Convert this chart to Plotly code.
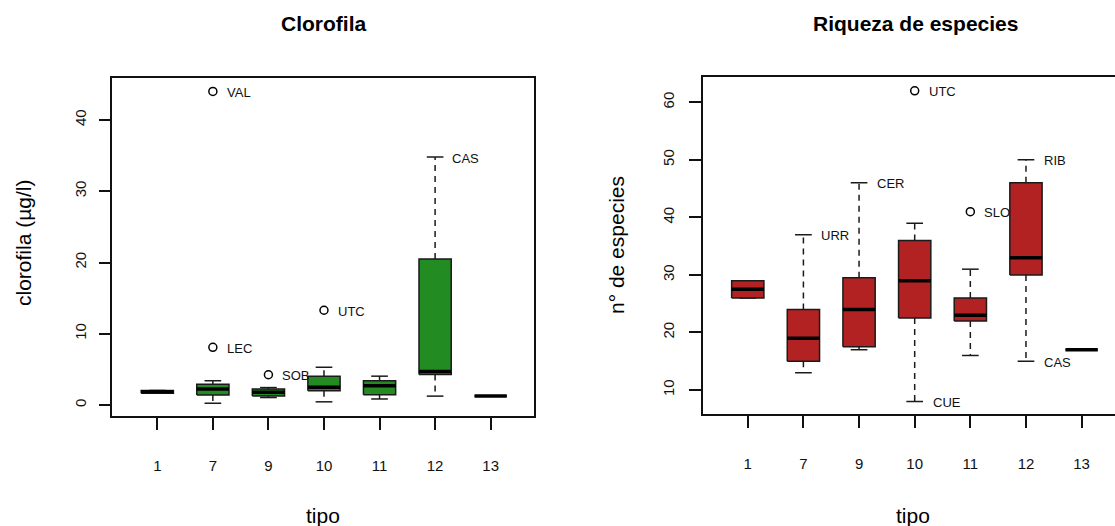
import plotly.graph_objects as go

# Site type (x categories)
tipo = ["1", "7", "9", "10", "11", "12", "13"]

# Chlorophyll (µg/l) box statistics per type
clor_low = [1.65, 0.25, 1.05, 0.45, 0.85, 1.25, 1.25]
clor_q1 = [1.65, 1.40, 1.25, 2.00, 1.45, 4.30, 1.25]
clor_med = [1.85, 2.25, 1.80, 2.50, 2.70, 4.70, 1.25]
clor_q3 = [2.05, 2.90, 2.25, 4.05, 3.40, 20.50, 1.25]
clor_high = [2.05, 3.40, 2.45, 5.30, 4.05, 34.80, 1.25]

# Chlorophyll outliers and labelled extremes
clor_out_tipo = ["7", "7", "9", "10"]
clor_out_val = [44.0, 8.1, 4.25, 13.3]
clor_out_lab = ["VAL", "LEC", "SOB", "UTC"]
clor_ext_tipo = ["12"]
clor_ext_val = [34.8]
clor_ext_lab = ["CAS"]

# Species richness box statistics per type
rich_low = [26, 13, 17, 8, 16, 15, 17]
rich_q1 = [26, 15, 17.5, 22.5, 22, 30, 17]
rich_med = [27.5, 19, 24, 29, 23, 33, 17]
rich_q3 = [29, 24, 29.5, 36, 26, 46, 17]
rich_high = [29, 37, 46, 39, 31, 50, 17]

# Species richness outliers and labelled extremes
rich_out_tipo = ["10", "11"]
rich_out_val = [62, 41]
rich_out_lab = ["UTC", "SLO"]
rich_ext_tipo = ["7", "9", "10", "12", "12"]
rich_ext_val = [37, 46, 8, 50, 15]
rich_ext_lab = ["URR", "CER", "CUE", "RIB", "CAS"]

FONT = "Liberation Sans, Arial, Helvetica, sans-serif"
GREEN = "#228B22"
RED = "#B22222"
BORDER = "#1a1a1a"
BOX_HALF = 0.29
STAPLE_HALF = 0.15

pos = {t: i + 1 for i, t in enumerate(tipo)}


def box_traces(low, q1, med, q3, high, color, xa, ya):
    traces = []
    wx, wy, sx, sy, bx, by, mx, my = [], [], [], [], [], [], [], []
    for i, t in enumerate(tipo):
        p = pos[t]
        # whiskers (dashed)
        wx += [p, p, None, p, p, None]
        wy += [q3[i], high[i], None, q1[i], low[i], None]
        # staples
        sx += [p - STAPLE_HALF, p + STAPLE_HALF, None, p - STAPLE_HALF, p + STAPLE_HALF, None]
        sy += [high[i], high[i], None, low[i], low[i], None]
        # box
        bx += [p - BOX_HALF, p + BOX_HALF, p + BOX_HALF, p - BOX_HALF, p - BOX_HALF, None]
        by += [q1[i], q1[i], q3[i], q3[i], q1[i], None]
        # median
        mx += [p - BOX_HALF, p + BOX_HALF, None]
        my += [med[i], med[i], None]
    common = dict(xaxis=xa, yaxis=ya, mode="lines", hoverinfo="skip", showlegend=False)
    traces.append(go.Scatter(x=wx, y=wy, line=dict(color=BORDER, width=1.5, dash="6px,5px"), **common))
    traces.append(go.Scatter(x=sx, y=sy, line=dict(color=BORDER, width=1.5), **common))
    traces.append(go.Scatter(x=bx, y=by, fill="toself", fillcolor=color,
                             line=dict(color=BORDER, width=1.5), **common))
    traces.append(go.Scatter(x=mx, y=my, line=dict(color="black", width=3.5), **common))
    return traces


def outlier_trace(ts, vals, xa, ya):
    return go.Scatter(
        x=[pos[t] for t in ts], y=vals, xaxis=xa, yaxis=ya, mode="markers",
        marker=dict(symbol="circle-open", size=8, color="black", line=dict(width=1.5)),
        hoverinfo="skip", showlegend=False,
    )


def labels(ts, vals, labs, xref, yref, shift):
    return [
        dict(x=pos[t], y=v, xref=xref, yref=yref, text=lab, showarrow=False,
             xanchor="left", yanchor="middle", xshift=shift, yshift=-1,
             font=dict(family=FONT, size=13, color="#111"))
        for t, v, lab in zip(ts, vals, labs)
    ]


fig = go.Figure()
for tr in box_traces(clor_low, clor_q1, clor_med, clor_q3, clor_high, GREEN, "x", "y"):
    fig.add_trace(tr)
fig.add_trace(outlier_trace(clor_out_tipo, clor_out_val, "x", "y"))
for tr in box_traces(rich_low, rich_q1, rich_med, rich_q3, rich_high, RED, "x2", "y2"):
    fig.add_trace(tr)
fig.add_trace(outlier_trace(rich_out_tipo, rich_out_val, "x2", "y2"))

W, H = 1115, 526

axis_common = dict(
    showgrid=False, zeroline=False, showline=True, linecolor="#111", linewidth=1.5,
    ticks="outside", ticklen=12, tickwidth=1.5, tickcolor="#111",
    tickfont=dict(family=FONT, size=15, color="#111"),
)

xtick = dict(tickmode="array", tickvals=[pos[t] for t in tipo], ticktext=tipo,
             ticklabelstandoff=23)

annotations = []
annotations += labels(clor_out_tipo, clor_out_val, clor_out_lab, "x", "y", 12)
annotations += labels(clor_ext_tipo, clor_ext_val, clor_ext_lab, "x", "y", 15)
annotations += labels(rich_out_tipo, rich_out_val, rich_out_lab, "x2", "y2", 12)
annotations += labels(rich_ext_tipo, rich_ext_val, rich_ext_lab, "x2", "y2", 16)


def ptext(text, xpx, ypx, size, bold=False, angle=0):
    return dict(x=xpx / W, y=1 - ypx / H, xref="paper", yref="paper", text=text,
                showarrow=False, xanchor="center", yanchor="middle", textangle=angle,
                font=dict(family=FONT, size=size, color="black",
                          weight="bold" if bold else "normal"))


annotations += [
    ptext("Clorofila", 323, 24, 21, bold=True),
    ptext("Riqueza de especies", 915, 24, 21, bold=True),
    ptext("tipo", 323, 515, 21),
    ptext("tipo", 913, 515, 21),
    ptext("clorofila (µg/l)", 23, 243, 21, angle=-90),
    ptext("n° de especies", 616, 245, 21, angle=-90),
]

fig.update_layout(
    width=W, height=H, margin=dict(l=0, r=0, t=0, b=0),
    paper_bgcolor="white", plot_bgcolor="white",
    xaxis=dict(domain=[112.3 / W, 534 / W], range=[0.19, 7.78], mirror=True, **xtick, **axis_common),
    yaxis=dict(domain=[1 - 416 / H, 1 - 78.3 / H], range=[-1.54, 45.85], mirror=True,
               tickvals=[0, 10, 20, 30, 40], tickangle=-90, ticklabelstandoff=7, **axis_common),
    xaxis2=dict(domain=[702.7 / W, 1.0], range=[0.19, 7.6], mirror=True, anchor="y2", **xtick, **axis_common),
    yaxis2=dict(domain=[1 - 414 / H, 1 - 76.7 / H], range=[5.83, 64.45], anchor="x2",
                tickvals=[10, 20, 30, 40, 50, 60], tickangle=-90, ticklabelstandoff=9, **axis_common),
    annotations=annotations,
)

fig.write_html("out.html", config={"displayModeBar": False})
